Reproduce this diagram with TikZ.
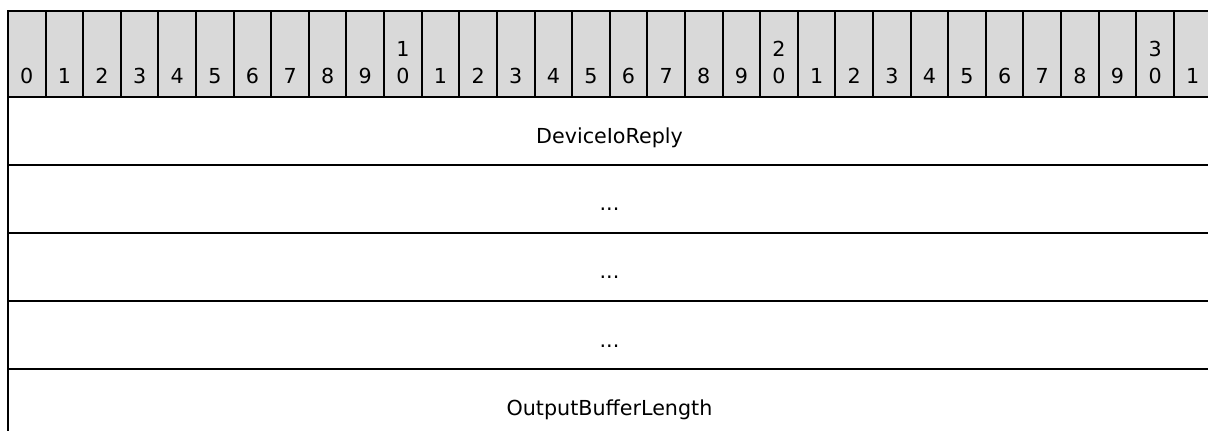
\documentclass[tikz,border=0pt]{standalone}
\usepackage{fontspec}
\setmainfont{DejaVu Sans}
\definecolor{hdrgray}{RGB}{217,217,217}
\begin{document}
\begin{tikzpicture}[x=0.75pt,y=-0.75pt,line width=1.5pt,
  hdrcell/.style={fill=hdrgray,draw=black},
  bitlbl/.style={font=\fontsize{15.5}{20.25}\selectfont,inner sep=0pt,anchor=base,align=center},
  fieldlbl/.style={font=\fontsize{15.5}{20.25}\selectfont,inner sep=0pt,anchor=base},
  rowline/.style={draw=black}]
\useasboundingbox (0,0) rectangle (1208,431);
\clip (0,0) rectangle (1208,431);
\def\cw{37.61}
% header cells
\foreach \i in {0,...,31}{
  \pgfmathsetmacro{\xl}{8+\cw*\i}
  \pgfmathsetmacro{\xr}{8+\cw*(\i+1)}
  \draw[hdrcell] (\xl,11) rectangle (\xr,97);
}
% header labels
\foreach \i in {0,...,31}{
  \pgfmathsetmacro{\xc}{8+\cw*(\i+0.5)}
  \pgfmathtruncatemacro{\d}{mod(\i,10)}
  \pgfmathtruncatemacro{\t}{div(\i,10)}
  \ifnum\d=0 \ifnum\i>0
    \node[bitlbl] (b\i) at (\xc,84) {\t\\\d};
  \else
    \node[bitlbl] (b\i) at (\xc,84) {\d};
  \fi\else
    \node[bitlbl] (b\i) at (\xc,84) {\d};
  \fi
}
% rows
\coordinate (tl) at (8,97);
\coordinate (bl) at (8,440);
\draw[rowline] (tl) -- (bl);
\foreach \y in {165,233,301.5,369}{
  \draw[rowline] (8,\y) -- (1212,\y);
}
\node[fieldlbl] (f1) at (609.5,143.3) {DeviceIoReply};
\node[fieldlbl] (f2) at (609.5,211) {...};
\node[fieldlbl] (f3) at (609.5,279) {...};
\node[fieldlbl] (f4) at (609.5,347.5) {...};
\node[fieldlbl] (f5) at (609.5,415) {OutputBufferLength};
\end{tikzpicture}
\end{document}
